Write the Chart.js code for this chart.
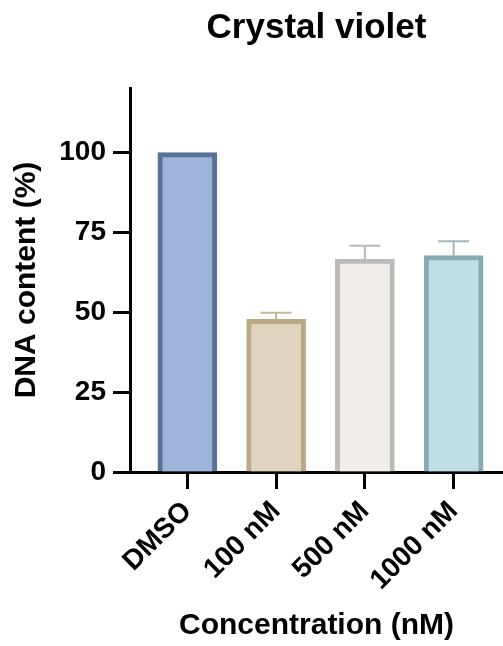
<!DOCTYPE html>
<html>
<head>
<meta charset="utf-8">
<title>Crystal violet</title>
<script src="https://cdn.jsdelivr.net/npm/chart.js@4/dist/chart.umd.min.js"></script>
<style>
  html, body { margin: 0; padding: 0; background: #fff; }
  #wrap { width: 503px; height: 646px; position: relative; }
</style>
</head>
<body>
<div id="wrap"><canvas id="canvas"></canvas></div>
<script>
//--Datos----------------------------
var categories = ['DMSO', '100 nM', '500 nM', '1000 nM'];
var means = [99.8, 47.7, 66.5, 67.6];
var errors = [0, 2.1, 4.2, 4.5];
var yTicks = [0, 25, 50, 75, 100];

var fillColors = ['#9db4da', '#e0d4bf', '#f2efea', '#c0dee6'];
var edgeColors = ['#587198', '#b8a886', '#bbbab6', '#89abb2'];
var errColors = ['#8093b3', '#c4b696', '#b9b9b9', '#9fb8bd'];

var FONT = "'Liberation Sans', Arial, Helvetica, sans-serif";

//--Barras de error (solo hacia arriba)----------------------------
var errorBarsPlugin = {
    id: 'errorBars',
    afterDatasetsDraw: function(chart) {
        var ctx = chart.ctx;
        var xs = chart.scales.x, ys = chart.scales.y;
        ctx.save();
        ctx.lineWidth = 2;
        for (var i = 0; i < means.length; i++) {
            if (!errors[i]) continue;
            var x = xs.getPixelForValue(i);
            var yTop = ys.getPixelForValue(means[i] + errors[i]);
            var yBar = ys.getPixelForValue(means[i]);
            ctx.strokeStyle = errColors[i];
            ctx.beginPath();
            ctx.moveTo(x, yBar);
            ctx.lineTo(x, yTop);
            ctx.moveTo(x - 15.5, yTop);
            ctx.lineTo(x + 15.5, yTop);
            ctx.stroke();
        }
        ctx.restore();
    }
};

function PlotBarChart(ctx) {
    var points = means.map(function(v, i) { return { x: i, y: v }; });
    return new Chart(ctx, {
        type: 'bar',
        data: {
            datasets: [{
                data: points,
                backgroundColor: fillColors,
                borderColor: edgeColors,
                borderWidth: 5,
                borderSkipped: 'bottom',
                barThickness: 59
            }]
        },
        options: {
            responsive: true,
            maintainAspectRatio: false,
            animation: false,
            layout: { padding: { left: 0, right: 0, top: 0, bottom: 0 } },
            plugins: {
                legend: { display: false },
                tooltip: { enabled: false },
                title: {
                    display: true,
                    text: 'Crystal violet',
                    color: '#000',
                    fullSize: false,
                    font: { family: FONT, size: 35, weight: 'bold' },
                    padding: { top: 7, bottom: 39 }
                }
            },
            scales: {
                x: {
                    type: 'linear',
                    min: -0.646,
                    max: 3.556,
                    offset: false,
                    afterBuildTicks: function(scale) {
                        scale.ticks = categories.map(function(c, i) { return { value: i }; });
                    },
                    afterFit: function(scale) { scale.height = 174; },
                    grid: {
                        display: true,
                        offset: false,
                        drawOnChartArea: false,
                        drawTicks: true,
                        tickLength: 17,
                        tickWidth: 3,
                        tickColor: '#000'
                    },
                    border: { display: true, width: 3, color: '#000' },
                    ticks: {
                        autoSkip: false,
                        minRotation: 45,
                        maxRotation: 45,
                        padding: 6,
                        color: '#000',
                        font: { family: FONT, size: 28, weight: 'bold' },
                        callback: function(v) { return categories[v]; }
                    },
                    title: {
                        display: true,
                        text: 'Concentration (nM)',
                        color: '#000',
                        font: { family: FONT, size: 30, weight: 'bold' },
                        padding: { top: 0, bottom: 2 }
                    }
                },
                y: {
                    min: 0,
                    max: 120,
                    afterBuildTicks: function(scale) {
                        scale.ticks = yTicks.map(function(v) { return { value: v }; });
                    },
                    afterFit: function(scale) { scale.width = 130; },
                    grid: {
                        display: true,
                        drawOnChartArea: false,
                        drawTicks: true,
                        tickLength: 17,
                        tickWidth: 3,
                        tickColor: '#000'
                    },
                    border: { display: true, width: 3, color: '#000' },
                    ticks: {
                        padding: 7,
                        color: '#000',
                        font: { family: FONT, size: 28, weight: 'bold' }
                    },
                    title: {
                        display: true,
                        text: 'DNA content (%)',
                        color: '#000',
                        font: { family: FONT, size: 30, weight: 'bold' },
                        padding: { top: 9, bottom: 0 }
                    }
                }
            }
        },
        plugins: [errorBarsPlugin]
    });
}

var ctx = document.getElementById('canvas').getContext('2d');
window.myChart = PlotBarChart(ctx);
</script>
</body>
</html>
